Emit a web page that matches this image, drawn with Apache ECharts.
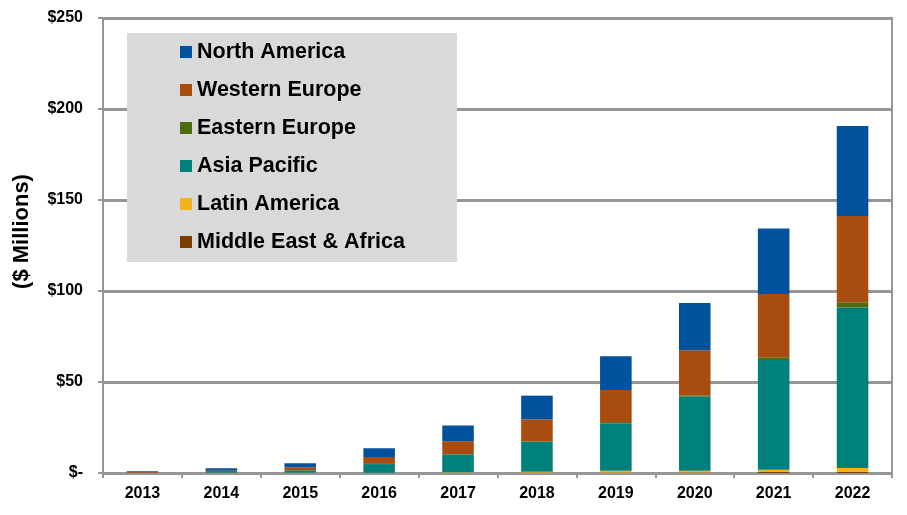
<!DOCTYPE html>
<html>
<head>
<meta charset="utf-8">
<script src="https://cdn.jsdelivr.net/npm/echarts@6/dist/echarts.min.js"></script>
<style>
  html, body { margin: 0; padding: 0; background: #fff; }
  #bars { width: 907px; height: 515px; }
</style>
</head>
<body>
<div id="bars"></div>
<script>
var years = ['2013', '2014', '2015', '2016', '2017', '2018', '2019', '2020', '2021', '2022'];
var northAmerica = [0.5, 1.3, 2.2, 4.8, 8.6, 13.0, 18.5, 26.0, 35.9, 49.5];
var westernEurope = [0.3, 0.8, 1.6, 3.8, 7.1, 12.1, 17.6, 24.7, 34.8, 47.4];
var easternEurope = [0, 0, 0, 0.1, 0.2, 0.3, 0.6, 0.7, 1.5, 2.9];
var asiaPacific = [0.2, 0.4, 1.4, 4.8, 9.8, 16.4, 26.2, 40.8, 60.3, 88.2];
var latinAmerica = [0, 0.1, 0.1, 0.1, 0.3, 0.5, 1.0, 0.9, 1.3, 2.0];
var middleEastAfrica = [0, 0, 0, 0, 0.1, 0.2, 0.2, 0.3, 0.5, 0.7];
var legendNames = ['North America', 'Western Europe', 'Eastern Europe', 'Asia Pacific', 'Latin America', 'Middle East & Africa'];

var font = '"Liberation Sans", Arial, sans-serif';
var myChart = echarts.init(document.getElementById('bars'));

function bar(name, data, color) {
  return {
    name: name,
    type: 'bar',
    stack: 'total',
    barWidth: '40%',
    data: data,
    itemStyle: { color: color }
  };
}

var option = {
  animation: false,
  textStyle: { fontFamily: font },
  grid: {
    left: 103, right: 15, top: 18, bottom: 42,
    show: true, borderColor: '#969696', borderWidth: 2
  },
  // grey box behind the legend
  graphic: [{
    type: 'rect',
    left: 127, top: 33, z: 5,
    shape: { width: 330, height: 229 },
    style: { fill: '#d9d9d9' }
  }],
  legend: {
    orient: 'vertical',
    left: 180, top: 41, z: 10,
    data: legendNames,
    itemWidth: 12, itemHeight: 12, itemGap: 16,
    icon: 'rect',
    padding: 0,
    textStyle: { fontSize: 21.5, fontWeight: 'bold', color: '#000', fontFamily: font, lineHeight: 22 }
  },
  xAxis: {
    type: 'category',
    data: years,
    axisLine: { lineStyle: { color: '#969696', width: 2 } },
    axisTick: { show: true, length: 5, lineStyle: { color: '#969696', width: 2 } },
    axisLabel: { fontSize: 16, fontWeight: 'bold', color: '#000', margin: 13, fontFamily: font }
  },
  yAxis: {
    type: 'value',
    min: 0, max: 250, interval: 50,
    name: '($ Millions)',
    nameLocation: 'middle',
    nameGap: 70,
    nameRotate: 90,
    nameTextStyle: { fontSize: 22, fontWeight: 'bold', color: '#000', fontFamily: font, padding: [0, 0, 0, 28] },
    axisLine: { show: true, lineStyle: { color: '#969696', width: 2 } },
    axisTick: { show: true, length: 5, lineStyle: { color: '#969696', width: 2 } },
    splitLine: { lineStyle: { color: '#969696', width: 3 } },
    axisLabel: {
      fontSize: 16, fontWeight: 'bold', color: '#000', margin: 20, fontFamily: font,
      formatter: function (v) { return v === 0 ? '$-' : '$' + v; }
    }
  },
  series: [
    bar('Middle East & Africa', middleEastAfrica, '#7a3e00'),
    bar('Latin America', latinAmerica, '#f2b21b'),
    bar('Asia Pacific', asiaPacific, '#00807a'),
    bar('Eastern Europe', easternEurope, '#4e6b14'),
    bar('Western Europe', westernEurope, '#a84c10'),
    bar('North America', northAmerica, '#00529c')
  ]
};

myChart.setOption(option);
</script>
</body>
</html>
